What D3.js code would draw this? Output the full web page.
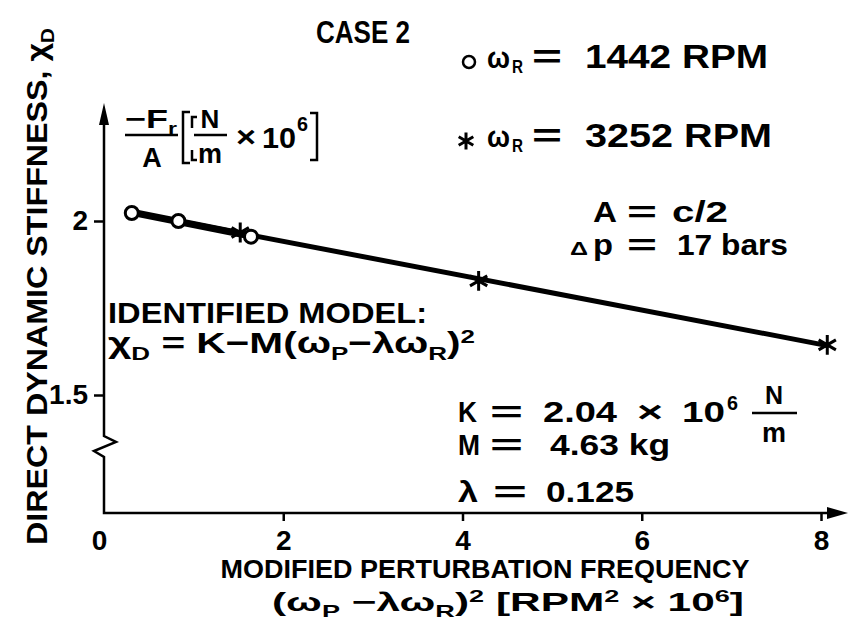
<!DOCTYPE html>
<html>
<head>
<meta charset="utf-8">
<script src="https://cdn.jsdelivr.net/npm/d3@7"></script>
<style>
body { margin: 0; background: #fff; }
text { font-family: "Liberation Sans", Arial, sans-serif; font-weight: bold; fill: #000; }
.narrow { font-family: "Liberation Sans Narrow", "Liberation Sans", Arial, sans-serif; }
</style>
</head>
<body>
<div id="chart"></div>
<script>
let width = 849
let height = 620

// omega_R = 1442 RPM (circles)
let circleX = [0.31, 0.83, 1.64]
let circleY = [2.023, 2.0, 1.955]
// omega_R = 3252 RPM (asterisks)
let starX = [1.52, 4.18, 8.07]
let starY = [1.967, 1.828, 1.644]
// identified model line
let fitX = [0.31, 8.07]
let fitY = [2.025, 1.642]
let fitLowX = [0.31, 1.64]
let fitLowY = [2.025, 1.957]

let xTicks = [0, 2, 4, 6, 8]
let yTicks = [1.5, 2]
let yTickLabels = ['1.5', '2']

let xScale = d3.scaleLinear()
	.domain([0, 8])
	.range([104, 821])

let yScale = d3.scaleLinear()
	.domain([1.5, 2])
	.range([395, 221])

let baseY = 513   // broken baseline of the y axis
let topY = 103

let svg = d3.select('#chart').append('svg')
	.attr('width', width)
	.attr('height', height)

let x0 = xScale(0)

// axes with break
svg.append('path')
	.attr('d', `M${x0},${topY + 14} L${x0},436 L${x0 + 12},442 L${x0 - 10},451 L${x0},457 L${x0},${baseY} L${xScale(8) + 10},${baseY}`)
	.attr('fill', 'none')
	.attr('stroke', '#000')
	.attr('stroke-width', 2.5)

svg.append('path')
	.attr('d', `M${x0},${topY} L${x0 - 5},${topY + 22} L${x0 + 5},${topY + 22} Z`)
	.attr('fill', '#000')

svg.append('path')
	.attr('d', `M848,${baseY} L827,${baseY - 6} L827,${baseY + 6} Z`)
	.attr('fill', '#000')

let yAxis = d3.axisLeft(yScale)
	.tickValues(yTicks)
	.tickFormat((d, i) => yTickLabels[i])
	.tickSize(10)
	.tickPadding(6)

let yG = svg.append('g')
	.attr('transform', `translate(${x0},0)`)
	.call(yAxis)
yG.select('.domain').remove()
yG.selectAll('line').attr('stroke', '#000').attr('stroke-width', 2.5)
yG.selectAll('text').attr('font-size', 28).attr('fill', '#000')

let xAxis = d3.axisBottom(xScale)
	.tickValues(xTicks)
	.tickSize(8)
	.tickPadding(9)

let xG = svg.append('g')
	.attr('transform', `translate(0,${baseY})`)
	.call(xAxis)
xG.select('.domain').remove()
xG.selectAll('line').attr('stroke', '#000').attr('stroke-width', 2.5)
xG.selectAll('.tick').filter(d => d === 0).select('line').remove()
xG.selectAll('text').attr('font-size', 28).attr('class', 'narrow').attr('fill', '#000')
xG.selectAll('.tick').filter(d => d === 0).select('text').attr('dx', -5)

// model line
let line = d3.line()
	.x(d => xScale(d[0]))
	.y(d => yScale(d[1]))

svg.append('path')
	.datum(fitX.map((d, i) => [d, fitY[i]]))
	.attr('d', line)
	.attr('fill', 'none')
	.attr('stroke', '#000')
	.attr('stroke-width', 5)

svg.append('path')
	.datum(fitLowX.map((d, i) => [d, fitLowY[i]]))
	.attr('d', line)
	.attr('fill', 'none')
	.attr('stroke', '#000')
	.attr('stroke-width', 7)

let star = d3.symbol(d3.symbolAsterisk, 280)

svg.append('g').selectAll('path')
	.data(starX.map((d, i) => [d, starY[i]]))
	.enter().append('path')
	.attr('d', star)
	.attr('transform', d => `translate(${xScale(d[0])},${yScale(d[1])})`)
	.attr('fill', 'none')
	.attr('stroke', '#000')
	.attr('stroke-width', 3)

svg.append('g').selectAll('circle')
	.data(circleX.map((d, i) => [d, circleY[i]]))
	.enter().append('circle')
	.attr('cx', d => xScale(d[0]))
	.attr('cy', d => yScale(d[1]))
	.attr('r', 6.5)
	.attr('fill', '#fff')
	.attr('stroke', '#000')
	.attr('stroke-width', 3)

// text helpers
function label(x, y, str, size, len, anchor) {
	let t = svg.append('text')
		.attr('x', x)
		.attr('y', y)
		.attr('font-size', size)
		.text(str)
	if (len) t.attr('textLength', len).attr('lengthAdjust', 'spacingAndGlyphs')
	if (anchor) t.attr('text-anchor', anchor)
	return t
}

function rich(x, y, parts, size, len) {
	let t = svg.append('text')
		.attr('x', x)
		.attr('y', y)
		.attr('font-size', size)
	let shift = 0
	parts.forEach(p => {
		let s = typeof p === 'string' ? { t: p, d: 0 } : p
		let d = s.d * size
		let ts = t.append('tspan').attr('dy', d - shift).text(s.t)
		if (s.d) ts.attr('font-size', size * 0.64)
		shift = d
	})
	if (len) t.attr('textLength', len).attr('lengthAdjust', 'spacingAndGlyphs')
	return t
}
let sub = s => ({ t: s, d: 0.24 })
let sup = s => ({ t: s, d: -0.34 })

function rule(x1, x2, y) {
	svg.append('line')
		.attr('x1', x1).attr('x2', x2)
		.attr('y1', y).attr('y2', y)
		.attr('stroke', '#000')
		.attr('stroke-width', 2.5)
}

label(316, 43, 'CASE 2', 32, 94)

// legend
svg.append('circle')
	.attr('cx', 469).attr('cy', 62).attr('r', 6)
	.attr('fill', 'none').attr('stroke', '#000').attr('stroke-width', 2.5)
label(487, 68, 'ω', 30, 23)
label(512, 73, 'R', 19, 11)
label(532, 68, '=', 34, 30)
label(585, 68, '1442 RPM', 34, 183)

svg.append('path')
	.attr('d', d3.symbol(d3.symbolAsterisk, 200))
	.attr('transform', 'translate(466,141)')
	.attr('fill', 'none').attr('stroke', '#000').attr('stroke-width', 3)
label(487, 147, 'ω', 30, 23)
label(512, 152, 'R', 19, 11)
label(532, 147, '=', 34, 30)
label(585, 147, '3252 RPM', 34, 187)

label(593, 222, 'A', 30, 24)
label(627, 222, '=', 30, 30)
label(672, 222, 'c/2', 30, 56)
label(570, 255, 'Δ', 18, 18)
label(593, 255, 'p', 30, 20)
label(627, 255, '=', 30, 30)
label(677, 255, '17 bars', 30, 111)

// identified model
label(108, 323, 'IDENTIFIED MODEL:', 30, 319)
rich(108, 353, ['χ', sub('D'), ' = K−M(ω', sub('P'), '−λω', sub('R'), ')', sup('2')], 30, 367)

label(458, 422, 'K', 30, 19)
label(490, 422, '=', 30, 33)
label(543, 422, '2.04', 30, 74)
label(637, 422, '×', 30, 26)
label(682, 422, '10', 30, 43)
label(727, 410, '6', 20, 11)
label(774, 404, 'N', 25, null, 'middle')
rule(752, 797, 413)
label(774, 442, 'm', 27, null, 'middle')

label(458, 455, 'M', 30, 22)
label(490, 455, '=', 30, 33)
label(550, 455, '4.63 kg', 30, 120)

label(458, 502, 'λ', 30, 20)
label(493, 502, '=', 30, 34)
label(546, 502, '0.125', 30, 88)

// y unit label
rich(125, 128, ['−F', sub('r')], 26, 52)
rule(125, 178, 135)
label(152, 167, 'A', 27, null, 'middle')
svg.append('path')
	.attr('d', 'M190,112 L183,112 L183,163 L190,163 M197,117 L192,117 L192,128 M192,150 L192,160 L197,160')
	.attr('fill', 'none').attr('stroke', '#000').attr('stroke-width', 2.5)
label(210, 128, 'N', 26, null, 'middle')
rule(194, 227, 135)
label(210, 163, 'm', 27, null, 'middle')
label(236, 147, '×', 30, 20)
label(262, 148, '10', 30, 34)
label(297, 131, '6', 20, 11)
svg.append('path')
	.attr('d', 'M310,113 L317,113 L317,160 L310,160')
	.attr('fill', 'none').attr('stroke', '#000').attr('stroke-width', 2.5)

// axis titles
rich(0, 0, ['DIRECT DYNAMIC STIFFNESS, χ', sub('D')], 29, 517)
	.attr('transform', 'translate(47,545) rotate(-90)')

label(485, 578, 'MODIFIED PERTURBATION FREQUENCY', 26, 529, 'middle').attr('class', 'narrow')
rich(272, 611, ['(ω', sub('P'), ' −λω', sub('R'), ')', sup('2'), ' [RPM', sup('2'), '  ×  10', sup('6'), ']'], 26, 472)
	.attr('class', 'narrow')
</script>
</body>
</html>
